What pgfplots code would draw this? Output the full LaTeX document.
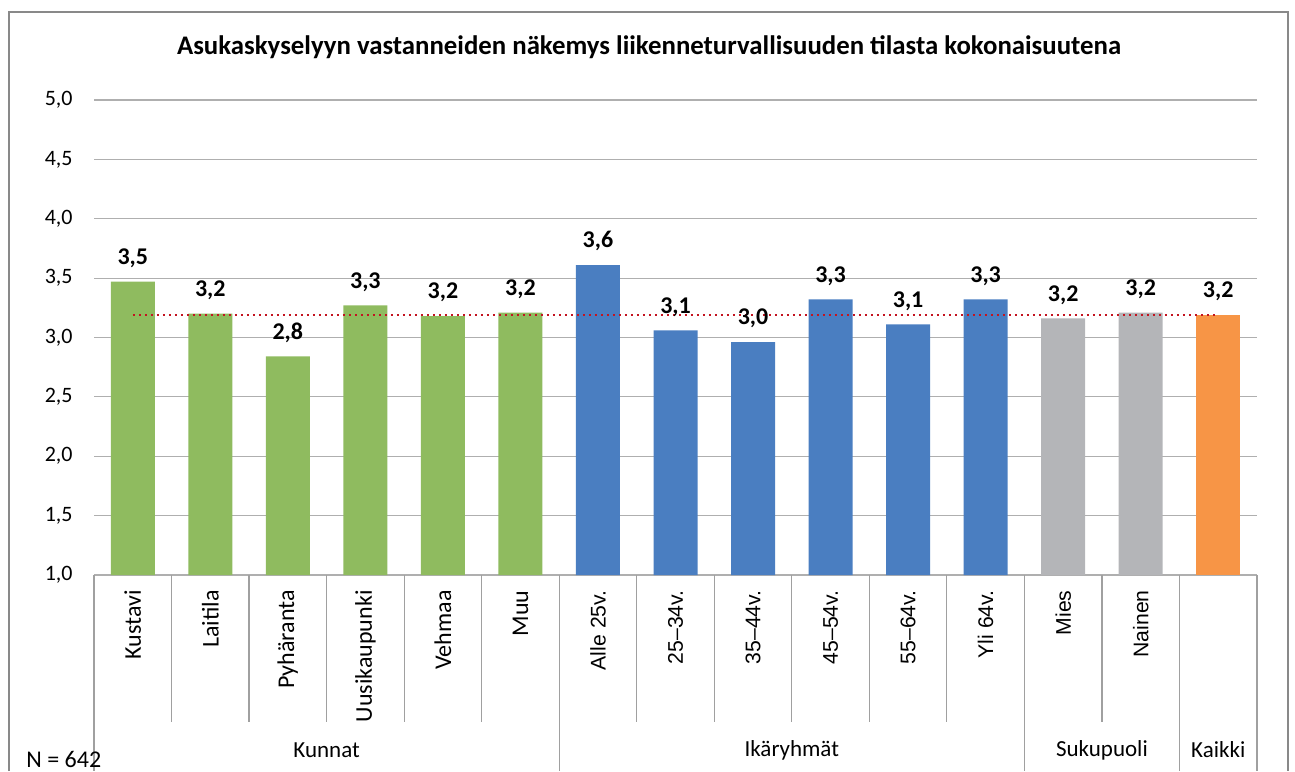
\documentclass[border=0pt]{standalone}
\usepackage{fontspec}
\setmainfont{Carlito}
\newfontfamily\arialf{Liberation Sans}
\usepackage{pgfplots}
\pgfplotsset{compat=1.18}
\definecolor{cgreen}{RGB}{143,187,95}
\definecolor{cblue}{RGB}{74,126,193}
\definecolor{cgray}{RGB}{180,181,184}
\definecolor{corange}{RGB}{247,149,70}
\definecolor{cred}{RGB}{195,20,32}
\definecolor{cframe}{RGB}{137,137,137}
\definecolor{cgrid}{RGB}{175,175,175}
\definecolor{csep}{RGB}{160,160,160}
\newcommand{\catfont}{\fontsize{11}{13}\selectfont}
\newcommand{\kunfont}{\fontsize{12}{14}\selectfont}
\newcommand{\agefont}{\arialf\fontsize{10.6}{13}\selectfont}
\begin{document}
\begin{tikzpicture}[x=1pt,y=1pt]
\begin{axis}[
  at={(47pt,98pt)}, anchor=south west,
  width=581.5pt, height=237.5pt, scale only axis,
  xmin=-0.5, xmax=14.5, ymin=1, ymax=5,
  ytick={1,1.5,2,2.5,3,3.5,4,4.5,5},
  xtick=\empty,
  ymajorgrids, grid style={cgrid, line width=0.6pt},
  axis line style={draw=none}, tick style={draw=none},
  /pgf/number format/assume math mode=true,
  yticklabel style={font=\catfont, inner sep=0pt, xshift=-10.5pt,
    /pgf/number format/fixed, /pgf/number format/fixed zerofill,
    /pgf/number format/precision=1, /pgf/number format/use comma},
  clip=false,
  ybar, bar width=22pt,
  every axis plot/.append style={bar shift=0pt},
  nodes near coords={\pgfmathprintnumber[fixed,fixed zerofill,precision=1,use comma]{\pgfplotspointmeta}},
  every node near coord/.append style={font=\fontsize{12}{14}\selectfont\bfseries, yshift=3.5pt, black},
]
\addplot[fill=cgreen, draw=none] coordinates {(0,3.47) (1,3.20) (2,2.84) (3,3.27) (4,3.18) (5,3.21)};
\addplot[fill=cblue, draw=none] coordinates {(6,3.61) (7,3.06) (8,2.96) (9,3.32) (10,3.11) (11,3.32)};
\addplot[fill=cgray, draw=none] coordinates {(12,3.16) (13,3.21)};
\addplot[fill=corange, draw=none] coordinates {(14,3.19)};
\addplot[sharp plot, nodes near coords={}, cred, line width=1.3pt, dash pattern=on 1.2pt off 1.8pt] coordinates {(0,3.19) (14,3.19)};
\pgfplotsinvokeforeach{0.5,1.5,2.5,3.5,4.5,6.5,7.5,8.5,9.5,10.5,12.5}{
  \draw[csep, line width=0.6pt] (axis cs:#1,1) -- ([yshift=-73.5pt]axis cs:#1,1);}
\pgfplotsinvokeforeach{-0.5,5.5,11.5,13.5,14.5}{
  \draw[csep, line width=0.6pt] (axis cs:#1,1) -- ([yshift=-98pt]axis cs:#1,1);}
\tikzset{cat/.style={rotate=90, anchor=east, inner sep=0pt, font=\kunfont},
         age/.style={rotate=90, anchor=east, inner sep=0pt, font=\agefont}}
\node[cat] at ([yshift=-7.5pt]axis cs:0,1) {Kustavi};
\node[cat] at ([yshift=-7.5pt]axis cs:1,1) {Laitila};
\node[cat] at ([yshift=-7.5pt]axis cs:2,1) {Pyhäranta};
\node[cat] at ([yshift=-7.5pt]axis cs:3,1) {Uusikaupunki};
\node[cat] at ([yshift=-7.5pt]axis cs:4,1) {Vehmaa};
\node[cat] at ([yshift=-7.5pt]axis cs:5,1) {Muu};
\node[age] at ([yshift=-7.5pt]axis cs:6,1) {Alle 25v.};
\node[age] at ([yshift=-7.5pt]axis cs:7,1) {25–34v.};
\node[age] at ([yshift=-7.5pt]axis cs:8,1) {35–44v.};
\node[age] at ([yshift=-7.5pt]axis cs:9,1) {45–54v.};
\node[age] at ([yshift=-7.5pt]axis cs:10,1) {55–64v.};
\node[age] at ([yshift=-7.5pt]axis cs:11,1) {Yli 64v.};
\node[age] at ([yshift=-7.5pt]axis cs:12,1) {Mies};
\node[age] at ([yshift=-7.5pt]axis cs:13,1) {Nainen};
\node[font=\fontsize{11.5}{13}\selectfont] at ([yshift=-87.5pt]axis cs:2.5,1) {Kunnat};
\node[font=\fontsize{11.5}{13}\selectfont] at ([yshift=-87.5pt]axis cs:8.5,1) {Ikäryhmät};
\node[font=\fontsize{11.5}{13}\selectfont] at ([yshift=-87.5pt]axis cs:12.5,1) {Sukupuoli};
\node[font=\fontsize{11.5}{13}\selectfont] at ([yshift=-87.5pt]axis cs:14,1) {Kaikki};
\end{axis}
\node[font=\fontsize{13.4}{16}\selectfont\bfseries] at (324.5pt,362pt) {Asukaskyselyyn vastanneiden näkemys liikenneturvallisuuden tilasta kokonaisuutena};
\node[font=\fontsize{12}{14}\selectfont, anchor=base west, inner sep=0pt] at (13pt,1.8pt) {N = 642};
\draw[cframe, line width=1pt] (4.5pt,0pt) -- (4.5pt,379.5pt) -- (644pt,379.5pt) -- (644pt,0pt);
\pgfresetboundingbox
\path[use as bounding box] (0,0) rectangle (647.5pt,385.5pt);
\end{tikzpicture}
\end{document}
